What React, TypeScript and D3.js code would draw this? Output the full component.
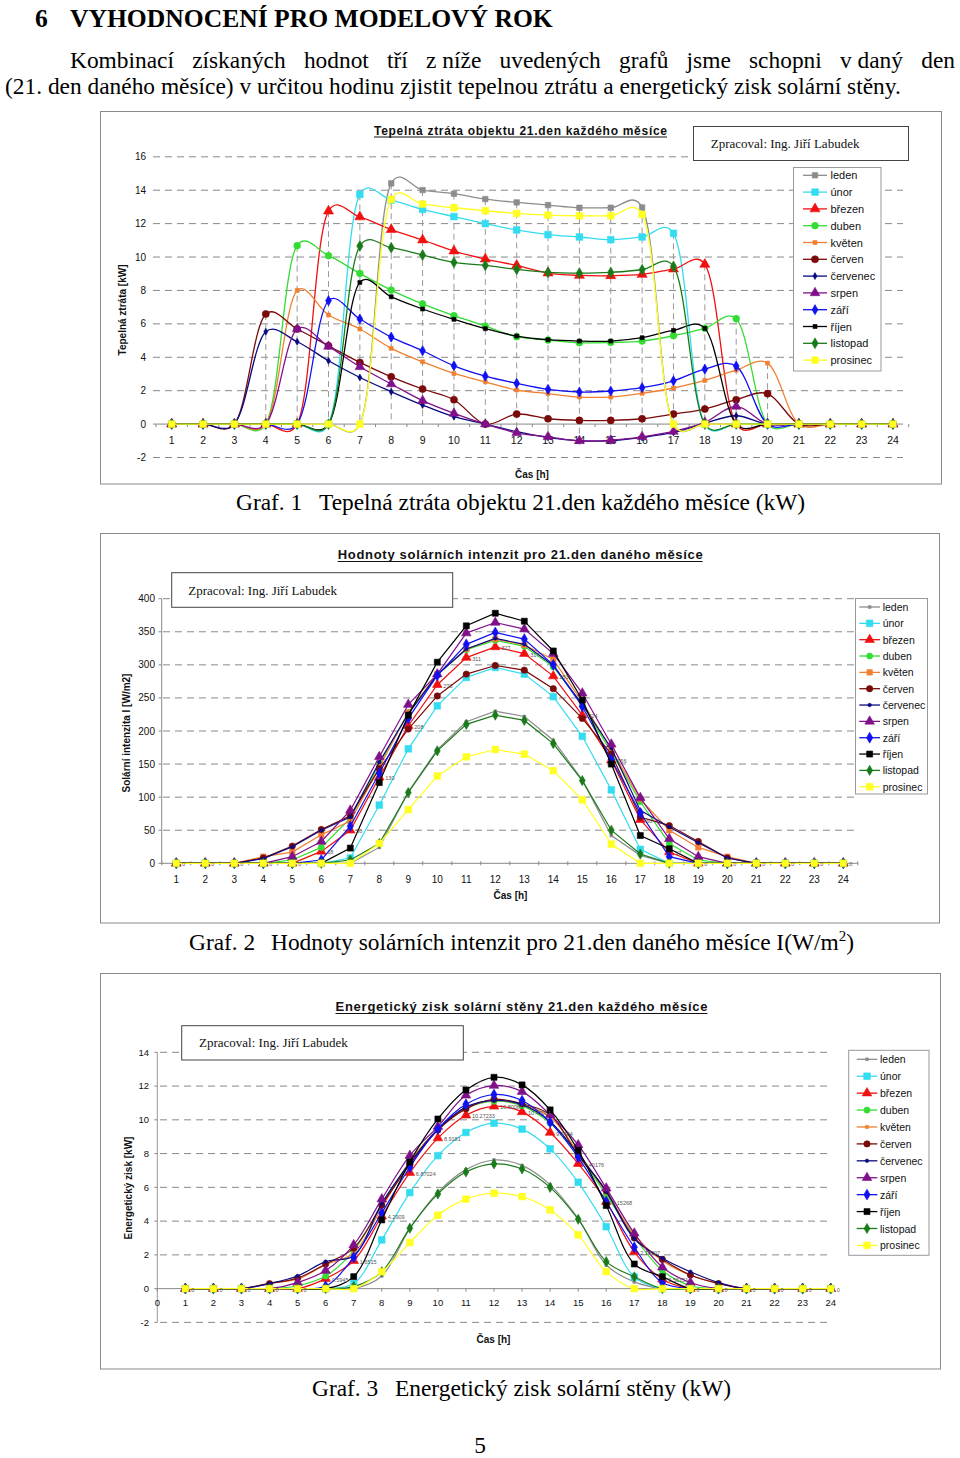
import React, { useLayoutEffect, useRef, useState } from "react";
import * as d3 from "d3";

// ---------- DATA ----------
const hours = [1, 2, 3, 4, 5, 6, 7, 8, 9, 10, 11, 12, 13, 14, 15, 16, 17, 18, 19, 20, 21, 22, 23, 24];
const hours0 = [0, 1, 2, 3, 4, 5, 6, 7, 8, 9, 10, 11, 12, 13, 14, 15, 16, 17, 18, 19, 20, 21, 22, 23, 24];
const months = ["leden", "únor", "březen", "duben", "květen", "červen", "červenec", "srpen", "září", "říjen", "listopad", "prosinec"];
const lossTicks = [-2, 0, 2, 4, 6, 8, 10, 12, 14, 16];
const solTicks = [0, 50, 100, 150, 200, 250, 300, 350, 400];
const gainTicks = [-2, 0, 2, 4, 6, 8, 10, 12, 14];

// Graf 1: tepelná ztráta [kW]
const lossLeden = [0, 0, 0, 0, 0, 0, 0, 14.41, 14.01, 13.79, 13.47, 13.27, 13.11, 12.95, 12.95, 12.97, 0, 0, 0, 0, 0, 0, 0, 0];
const lossUnor = [0, 0, 0, 0, 0, 0, 13.75, 13.41, 12.85, 12.42, 12.0, 11.62, 11.34, 11.2, 11.04, 11.2, 11.42, 0, 0, 0, 0, 0, 0, 0];
const lossBrezen = [0, 0, 0, 0, 0, 12.75, 12.4, 11.64, 11.02, 10.36, 9.88, 9.5, 9.04, 8.9, 8.88, 8.96, 9.28, 9.56, 0, 0, 0, 0, 0, 0];
const lossDuben = [0, 0, 0, 0, 10.68, 10.08, 9.02, 8.02, 7.19, 6.49, 5.87, 5.23, 5.03, 4.87, 4.89, 4.97, 5.29, 5.73, 6.31, 0, 0, 0, 0, 0];
const lossKveten = [0, 0, 0, 0, 8.0, 6.53, 5.69, 4.53, 3.73, 3.03, 2.53, 2.04, 1.82, 1.62, 1.62, 1.84, 2.16, 2.61, 3.23, 3.65, 0, 0, 0, 0];
const lossCerven = [0, 0, 0, 6.59, 5.69, 4.69, 3.69, 2.83, 2.1, 1.46, 0, 0.6, 0.32, 0.22, 0.22, 0.32, 0.6, 0.9, 1.46, 1.82, 0, 0, 0, 0];
const lossCervenec = [0, 0, 0, 5.53, 4.93, 3.79, 2.79, 1.94, 1.14, 0.44, 0, -0.45, -0.8, -1.0, -1.0, -0.8, -0.5, 0.05, 0.5, 0, 0, 0, 0, 0];
const lossSrpen = [0, 0, 0, 0, 5.69, 4.65, 3.43, 2.4, 1.4, 0.64, 0, -0.52, -0.76, -1.0, -0.96, -0.76, -0.44, 0.1, 1.06, 0, 0, 0, 0, 0];
const lossZari = [0, 0, 0, 0, 0, 7.39, 6.29, 5.21, 4.39, 3.49, 2.87, 2.44, 2.08, 1.92, 1.98, 2.18, 2.59, 3.29, 3.47, 0, 0, 0, 0, 0];
const lossRijen = [0, 0, 0, 0, 0, 0, 8.48, 7.62, 6.89, 6.27, 5.71, 5.27, 5.05, 4.97, 4.97, 5.17, 5.61, 5.73, 0, 0, 0, 0, 0, 0];
const lossListopad = [0, 0, 0, 0, 0, 0, 10.66, 10.56, 10.12, 9.68, 9.5, 9.26, 9.08, 9.04, 9.08, 9.24, 9.44, 0, 0, 0, 0, 0, 0, 0];
const lossProsinec = [0, 0, 0, 0, 0, 0, 0, 13.45, 13.17, 12.95, 12.77, 12.61, 12.51, 12.47, 12.47, 12.55, 0, 0, 0, 0, 0, 0, 0, 0];

// Graf 2: solární intenzita [W/m2]
const solLeden = [0, 0, 0, 0, 0, 0, 0, 24, 108, 172, 214, 230, 222, 186, 126, 42, 12, 0, 0, 0, 0, 0, 0, 0];
const solUnor = [0, 0, 0, 0, 0, 0, 8, 88, 173, 238, 281, 296, 286, 252, 192, 111, 21, 0, 0, 0, 0, 0, 0, 0];
const solBrezen = [0, 0, 0, 0, 0, 18, 50, 130, 208, 270, 311, 327, 317, 283, 224, 156, 66, 17, 0, 0, 0, 0, 0, 0];
const solDuben = [0, 0, 0, 0, 5, 24, 68, 150, 228, 285, 323, 337, 328, 297, 240, 168, 93, 30, 5, 0, 0, 0, 0, 0];
const solKveten = [0, 0, 0, 10, 17, 43, 64, 145, 228, 286, 324, 339, 330, 308, 244, 172, 97, 50, 24, 10, 0, 0, 0, 0];
const solCerven = [0, 0, 0, 8, 26, 51, 72, 143, 203, 253, 286, 299, 292, 264, 219, 165, 70, 57, 33, 8, 0, 0, 0, 0];
const solCervenec = [0, 0, 0, 7, 25, 50, 70, 153, 226, 285, 324, 340, 331, 299, 240, 174, 80, 55, 31, 8, 0, 0, 0, 0];
const solSrpen = [0, 0, 0, 0, 10, 33, 80, 161, 240, 286, 348, 364, 354, 317, 257, 180, 99, 37, 10, 0, 0, 0, 0, 0];
const solZari = [0, 0, 0, 0, 0, 5, 56, 136, 219, 284, 331, 349, 339, 300, 237, 157, 76, 10, 0, 0, 0, 0, 0, 0];
const solRijen = [0, 0, 0, 0, 0, 0, 23, 122, 224, 304, 359, 378, 366, 321, 247, 150, 42, 22, 0, 0, 0, 0, 0, 0];
const solListopad = [0, 0, 0, 0, 0, 0, 5, 30, 107, 170, 210, 224, 216, 181, 125, 50, 14, 0, 0, 0, 0, 0, 0, 0];
const solProsinec = [0, 0, 0, 0, 0, 0, 0, 30, 81, 132, 161, 172, 165, 140, 96, 29, 0, 0, 0, 0, 0, 0, 0, 0];

// Graf 3: energetický zisk [kW]
const gainLeden = [0, 0, 0, 0, 0, 0, 0, 0.75, 3.55, 5.7, 7.05, 7.62, 7.3, 6.15, 4.15, 1.4, 0.4, 0, 0, 0, 0, 0, 0, 0];
const gainUnor = [0, 0, 0, 0, 0, 0, 0.3, 2.89, 5.69, 7.88, 9.25, 9.8, 9.45, 8.28, 6.3, 3.67, 0.69, 0, 0, 0, 0, 0, 0, 0];
const gainBrezen = [0, 0, 0, 0, 0, 0.5945, 1.6515, 4.2909, 6.87024, 8.9181, 10.27233, 10.80081, 10.47051, 9.2484, 7.40176, 5.15268, 2.18007, 0.56151, 0, 0, 0, 0, 0, 0];
const gainDuben = [0, 0, 0, 0, 0.17, 0.75, 2.25, 4.95, 7.53, 9.41, 10.67, 11.1, 10.83, 9.81, 7.93, 5.55, 3.07, 1.07, 0.17, 0, 0, 0, 0, 0];
const gainKveten = [0, 0, 0, 0.33, 0.56, 1.42, 2.11, 4.79, 7.53, 9.45, 10.7, 11.15, 10.9, 10.17, 8.06, 5.68, 3.2, 1.65, 0.79, 0.33, 0, 0, 0, 0];
const gainCerven = [0, 0, 0, 0.3, 0.62, 1.46, 2.4, 4.95, 7.35, 9.4, 10.65, 11.22, 10.95, 10.3, 7.9, 5.8, 3.0, 1.74, 0.81, 0.3, 0, 0, 0, 0];
const gainCervenec = [0, 0, 0, 0.3, 0.75, 1.6, 1.95, 5.05, 7.45, 9.45, 10.75, 11.15, 10.9, 9.9, 7.95, 5.75, 2.95, 1.8, 1.0, 0.36, 0, 0, 0, 0];
const gainSrpen = [0, 0, 0, 0, 0.36, 1.07, 2.59, 5.3, 7.88, 9.6, 11.45, 12.03, 11.67, 10.3, 8.51, 5.95, 3.28, 1.27, 0.36, 0, 0, 0, 0, 0];
const gainZari = [0, 0, 0, 0, 0, 0.15, 1.86, 4.48, 7.19, 9.46, 10.92, 11.5, 11.14, 9.85, 7.78, 5.15, 2.45, 0.36, 0, 0, 0, 0, 0, 0];
const gainRijen = [0, 0, 0, 0, 0, 0, 0.71, 4.07, 7.5, 10.05, 11.77, 12.52, 12.07, 10.59, 8.19, 4.92, 1.46, 0.71, 0, 0, 0, 0, 0, 0];
const gainListopad = [0, 0, 0, 0, 0, 0, 0.12, 1.0, 3.58, 5.61, 6.91, 7.39, 7.09, 6.0, 4.11, 1.6, 0.7, 0, 0, 0, 0, 0, 0, 0];
const gainProsinec = [0, 0, 0, 0, 0, 0, 0, 1.0, 2.73, 4.35, 5.3, 5.65, 5.45, 4.66, 3.18, 1.01, 0, 0, 0, 0, 0, 0, 0, 0];

const lossSeries = [lossLeden, lossUnor, lossBrezen, lossDuben, lossKveten, lossCerven, lossCervenec, lossSrpen, lossZari, lossRijen, lossListopad, lossProsinec];
const solSeries = [solLeden, solUnor, solBrezen, solDuben, solKveten, solCerven, solCervenec, solSrpen, solZari, solRijen, solListopad, solProsinec];
const gainSeries = [gainLeden, gainUnor, gainBrezen, gainDuben, gainKveten, gainCerven, gainCervenec, gainSrpen, gainZari, gainRijen, gainListopad, gainProsinec];

// ---------- STYLE ----------
const COLORS = ["#8c8c8c", "#33dcf0", "#f01010", "#33dd33", "#f08030", "#7a0a0a", "#0a0a80", "#80108a", "#1010f0", "#000000", "#1a7a1a", "#ffff20"];
type Mk = { t: string; s: number };
const MK1: Mk[] = [
  { t: "square", s: 30 }, { t: "square", s: 44 }, { t: "triangle", s: 44 }, { t: "circle", s: 36 },
  { t: "square", s: 16 }, { t: "circle", s: 40 }, { t: "diamond", s: 14 }, { t: "triangle", s: 40 },
  { t: "diamond", s: 30 }, { t: "square", s: 16 }, { t: "diamond", s: 34 }, { t: "square", s: 44 },
];
const MK2: Mk[] = [
  { t: "square", s: 8 }, { t: "square", s: 44 }, { t: "triangle", s: 40 }, { t: "circle", s: 30 },
  { t: "square", s: 30 }, { t: "circle", s: 32 }, { t: "circle", s: 10 }, { t: "triangle", s: 40 },
  { t: "diamond", s: 34 }, { t: "square", s: 36 }, { t: "diamond", s: 30 }, { t: "square", s: 44 },
];
const MK3: Mk[] = MK2.map((m, i) => (i === 4 ? { t: "square", s: 10 } : m));

const SANS = "'Liberation Sans', Arial, sans-serif";
const SERIF = "'Liberation Serif', 'Times New Roman', serif";
const GRID = "#8a8a8a";
const BODY = 23.4;

const symType = (t: string) =>
  t === "square" ? d3.symbolSquare : t === "triangle" ? d3.symbolTriangle : t === "diamond" ? d3.symbolDiamond : d3.symbolCircle;

function Marker({ x, y, mk, color }: { x: number; y: number; mk: Mk; color: string }) {
  const p = d3.symbol().type(symType(mk.t)).size(mk.s)() as string;
  return <path d={p} transform={`translate(${x},${y})`} fill={color} stroke={color} strokeWidth={0.6} />;
}

function Legend({ x, y, w, h, y0, dy, lx0, lx1, tx, fs, mks }: any) {
  return (
    <g>
      <rect x={x} y={y} width={w} height={h} fill="#fff" stroke="#999" strokeWidth={1} />
      {months.map((m, i) => {
        const yy = y0 + i * dy;
        return (
          <g key={m}>
            <line x1={lx0} x2={lx1} y1={yy} y2={yy} stroke={COLORS[i]} strokeWidth={1.3} />
            <Marker x={(lx0 + lx1) / 2} y={yy} mk={mks[i]} color={COLORS[i]} />
            <text x={tx} y={yy + 4} fontFamily={SANS} fontSize={fs} fill="#111">{m}</text>
          </g>
        );
      })}
    </g>
  );
}

function Credit({ x, y, w, h, tx, ty }: any) {
  return (
    <g>
      <rect x={x} y={y} width={w} height={h} fill="#fff" stroke="#444" strokeWidth={1} />
      <text x={tx} y={ty} fontFamily={SERIF} fontSize={13} fill="#111">Zpracoval: Ing. Jiří Labudek</text>
    </g>
  );
}

function Title({ cx, y, w, fs, text }: any) {
  return (
    <g>
      <text x={cx} y={y} textAnchor="middle" fontFamily={SANS} fontWeight="bold" fontSize={fs} textLength={w} lengthAdjust="spacing" fill="#111">{text}</text>
      <line x1={cx - w / 2} x2={cx + w / 2} y1={y + 2.5} y2={y + 2.5} stroke="#111" strokeWidth={1} />
    </g>
  );
}

function YLabel({ x, y, text }: any) {
  return (
    <text transform={`translate(${x},${y}) rotate(-90)`} textAnchor="middle" fontFamily={SANS} fontWeight="bold" fontSize={10} fill="#111">{text}</text>
  );
}

const smooth1 = d3.curveCatmullRom.alpha(0.25);
const smooth3 = d3.curveCatmullRom.alpha(0.5);

// ---------- CHART 1 ----------
function Chart1() {
  const x = d3.scaleLinear().domain([1, 24]).range([171.7, 893]);
  const y = d3.scaleLinear().domain([-2, 16]).range([457.5, 156.8]);
  const line = d3.line<number>().x((_, i) => x(hours[i])).y((d) => y(d)).curve(smooth1);
  const step = x(2) - x(1);
  return (
    <g>
      <rect x={100.5} y={111.5} width={841} height={372.5} fill="#fff" stroke={GRID} strokeWidth={1} />
      {lossTicks.filter((t) => t !== 0).map((t) => (
        <line key={t} x1={153} x2={903} y1={y(t)} y2={y(t)} stroke={GRID} strokeWidth={1} strokeDasharray="7,5" />
      ))}
      {hours.map((h, i) => {
        const vals = lossSeries.map((s) => s[i]);
        const mx = Math.max(0, d3.max(vals) as number);
        const mn = Math.min(0, d3.min(vals) as number);
        if (mx - mn < 0.01) return null;
        return <line key={h} x1={x(h)} x2={x(h)} y1={y(mx)} y2={y(mn)} stroke="#999" strokeWidth={1} strokeDasharray="6,4" />;
      })}
      <line x1={153} x2={903} y1={y(0)} y2={y(0)} stroke="#888" strokeWidth={1} />
      {d3.range(0, 25).map((k) => (
        <line key={k} x1={x(1) - step / 2 + k * step} x2={x(1) - step / 2 + k * step} y1={y(0)} y2={y(0) + 3} stroke="#888" />
      ))}
      {lossTicks.map((t) => (
        <text key={t} x={146} y={y(t) + 3.5} textAnchor="end" fontFamily={SANS} fontSize={10} fill="#111">{t}</text>
      ))}
      {hours.map((h) => (
        <text key={h} x={x(h)} y={444} textAnchor="middle" fontFamily={SANS} fontSize={10.5} fill="#111">{h}</text>
      ))}
      {lossSeries.map((s, i) => (
        <g key={i}>
          <path d={line(s) as string} fill="none" stroke={COLORS[i]} strokeWidth={1.3} />
          {s.map((v, j) => <Marker key={j} x={x(hours[j])} y={y(v)} mk={MK1[i]} color={COLORS[i]} />)}
        </g>
      ))}
      <Title cx={520.5} y={134.5} w={293} fs={12} text="Tepelná ztráta objektu 21.den každého měsíce" />
      <Credit x={693.5} y={126.5} w={215} h={34} tx={710.7} ty={147.5} />
      <Legend x={793.5} y={167.5} w={87.5} h={203.5} y0={175.3} dy={16.8} lx0={803} lx1={827} tx={830.5} fs={11} mks={MK1} />
      <YLabel x={126} y={310} text="Tepelná ztráta [kW]" />
      <text x={532} y={477.5} textAnchor="middle" fontFamily={SANS} fontWeight="bold" fontSize={10} fill="#111">Čas [h]</text>
    </g>
  );
}

// ---------- CHART 2 ----------
function Chart2() {
  const x = d3.scaleLinear().domain([1, 24]).range([176.3, 843.3]);
  const y = d3.scaleLinear().domain([0, 400]).range([863.3, 598.7]);
  const line = d3.line<number>().x((_, i) => x(hours[i])).y((d) => y(d));
  const step = x(2) - x(1);
  return (
    <g>
      <rect x={100.5} y={533.5} width={839} height={389.5} fill="#fff" stroke={GRID} strokeWidth={1} />
      {solTicks.filter((t) => t !== 0).map((t) => (
        <line key={t} x1={163} x2={855} y1={y(t)} y2={y(t)} stroke={GRID} strokeWidth={1} strokeDasharray="7,5" />
      ))}
      <line x1={161.7} x2={161.7} y1={y(400)} y2={y(0)} stroke="#888" />
      <line x1={161.7} x2={858} y1={y(0)} y2={y(0)} stroke="#888" />
      {solTicks.map((t) => <line key={t} x1={158.5} x2={161.7} y1={y(t)} y2={y(t)} stroke="#888" />)}
      {d3.range(0, 25).map((k) => (
        <line key={k} x1={x(1) - step / 2 + k * step} x2={x(1) - step / 2 + k * step} y1={y(0) - 2} y2={y(0) + 2} stroke="#888" />
      ))}
      {solTicks.map((t) => (
        <text key={t} x={155} y={y(t) + 3.5} textAnchor="end" fontFamily={SANS} fontSize={10} fill="#111">{t}</text>
      ))}
      {hours.map((h) => (
        <text key={h} x={x(h)} y={882.5} textAnchor="middle" fontFamily={SANS} fontSize={10} fill="#111">{h}</text>
      ))}
      {solSeries.map((s, i) => (
        <g key={i}>
          <path d={line(s) as string} fill="none" stroke={COLORS[i]} strokeWidth={1.2} />
          {s.map((v, j) => <Marker key={j} x={x(hours[j])} y={y(v)} mk={MK2[i]} color={COLORS[i]} />)}
        </g>
      ))}
      {solBrezen.map((v, j) => (
        <text key={j} x={x(hours[j]) + 6} y={y(v) + 3} fontFamily={SANS} fontSize={5.5} fill="#555">{v}</text>
      ))}
      <Title cx={520.2} y={559} w={365} fs={13} text="Hodnoty solárních intenzit pro 21.den daného měsíce" />
      <Credit x={171.7} y={572.7} w={281} h={34.6} tx={188.3} ty={594.5} />
      <Legend x={855.5} y={598.5} w={72} h={195.5} y0={607} dy={16.34} lx0={859.3} lx1={880} tx={882.7} fs={10.5} mks={MK2} />
      <YLabel x={129.5} y={733} text="Solární intenzita I [W/m2]" />
      <text x={510.5} y={898.5} textAnchor="middle" fontFamily={SANS} fontWeight="bold" fontSize={10} fill="#111">Čas [h]</text>
    </g>
  );
}

// ---------- CHART 3 ----------
function Chart3() {
  const x = d3.scaleLinear().domain([0, 24]).range([157.3, 830.7]);
  const y = d3.scaleLinear().domain([-2, 14]).range([1322.4, 1052.3]);
  const line = d3.line<number>().x((_, i) => x(hours[i])).y((d) => y(d)).curve(smooth3);
  return (
    <g>
      <rect x={100.5} y={973.5} width={840} height={395.5} fill="#fff" stroke={GRID} strokeWidth={1} />
      {gainTicks.filter((t) => t !== 0).map((t) => (
        <line key={t} x1={160} x2={832} y1={y(t)} y2={y(t)} stroke={GRID} strokeWidth={1} strokeDasharray="7,5" />
      ))}
      <line x1={x(0)} x2={x(0)} y1={y(14)} y2={y(-2)} stroke="#999" />
      <line x1={x(0)} x2={832} y1={y(0)} y2={y(0)} stroke="#888" />
      {gainTicks.map((t) => <line key={t} x1={x(0) - 3} x2={x(0)} y1={y(t)} y2={y(t)} stroke="#888" />)}
      {hours0.map((h) => <line key={h} x1={x(h)} x2={x(h)} y1={y(0)} y2={y(0) + 3} stroke="#888" />)}
      {gainTicks.map((t) => (
        <text key={t} x={149} y={y(t) + 3.2} textAnchor="end" fontFamily={SANS} fontSize={9.5} fill="#111">{t}</text>
      ))}
      {hours0.map((h) => (
        <text key={h} x={x(h)} y={1306} textAnchor="middle" fontFamily={SANS} fontSize={9.5} fill="#111">{h}</text>
      ))}
      {gainSeries.map((s, i) => (
        <g key={i}>
          <path d={line(s) as string} fill="none" stroke={COLORS[i]} strokeWidth={1.2} />
          {s.map((v, j) => <Marker key={j} x={x(hours[j])} y={y(v)} mk={MK3[i]} color={COLORS[i]} />)}
        </g>
      ))}
      {gainBrezen.map((v, j) => (
        <text key={j} x={x(hours[j]) + 6} y={y(v) + 3} fontFamily={SANS} fontSize={5.5} fill="#555">{v}</text>
      ))}
      <Title cx={521.5} y={1011} w={372} fs={13} text="Energetický zisk solární stěny 21.den každého měsíce" />
      <Credit x={181.7} y={1025.7} w={281.6} h={34.3} tx={199} ty={1046.5} />
      <Legend x={848.7} y={1050.3} w={80.3} h={205} y0={1059.3} dy={16.92} lx0={856.7} lx1={877.3} tx={880} fs={10.5} mks={MK3} />
      <YLabel x={132} y={1188} text="Energetický zisk [kW]" />
      <text x={493.5} y={1342.5} textAnchor="middle" fontFamily={SANS} fontWeight="bold" fontSize={10} fill="#111">Čas [h]</text>
    </g>
  );
}

// ---------- TEXT ----------
const paraWords = ["Kombinací", "získaných", "hodnot", "tří", "z níže", "uvedených", "grafů", "jsme", "schopni", "v daný", "den"];

function JustifiedLine({ x0, x1, y, words, fs }: any) {
  const refs = useRef<(SVGTextElement | null)[]>([]);
  const [pos, setPos] = useState<number[] | null>(null);
  useLayoutEffect(() => {
    const ws = refs.current.map((el) => (el ? el.getComputedTextLength() : 0));
    const total = d3.sum(ws);
    const gap = (x1 - x0 - total) / (words.length - 1);
    const p: number[] = [];
    let cx = x0;
    ws.forEach((w) => { p.push(cx); cx += w + gap; });
    setPos(p);
  }, []);
  return (
    <g>
      {words.map((w: string, i: number) => (
        <text key={i} ref={(el) => { refs.current[i] = el; }} x={pos ? pos[i] : x0 + i * 80} y={y} fontFamily={SERIF} fontSize={fs} fill="#000">{w}</text>
      ))}
    </g>
  );
}

export default function App() {
  return (
    <svg width={960} height={1458} style={{ position: "absolute", left: 0, top: 0, background: "#fff" }}>
      <rect x={0} y={0} width={960} height={1458} fill="#fff" />
      <text x={35} y={27} fontFamily={SERIF} fontWeight="bold" fontSize={25.6} fill="#000">6</text>
      <text x={70} y={27} fontFamily={SERIF} fontWeight="bold" fontSize={25.6} fill="#000">VYHODNOCENÍ PRO MODELOVÝ ROK</text>
      <JustifiedLine x0={70} x1={955} y={68} words={paraWords} fs={BODY} />
      <text x={5} y={94} fontFamily={SERIF} fontSize={BODY} fill="#000">(21. den daného měsíce) v určitou hodinu zjistit tepelnou ztrátu a energetický zisk solární stěny.</text>
      <Chart1 />
      <text x={236} y={509.5} fontFamily={SERIF} fontSize={BODY} fill="#000">Graf. 1</text>
      <text x={319} y={509.5} fontFamily={SERIF} fontSize={BODY} fill="#000">Tepelná ztráta objektu 21.den každého měsíce (kW)</text>
      <Chart2 />
      <text x={189} y={949.5} fontFamily={SERIF} fontSize={BODY} fill="#000">Graf. 2</text>
      <text x={271} y={949.5} fontFamily={SERIF} fontSize={BODY} fill="#000">
        Hodnoty solárních intenzit pro 21.den daného měsíce I(W/m<tspan dy={-9} fontSize={15}>2</tspan><tspan dy={9}>)</tspan>
      </text>
      <Chart3 />
      <text x={312} y={1395.5} fontFamily={SERIF} fontSize={BODY} fill="#000">Graf. 3</text>
      <text x={395} y={1395.5} fontFamily={SERIF} fontSize={BODY} fill="#000">Energetický zisk solární stěny (kW)</text>
      <text x={480} y={1453} textAnchor="middle" fontFamily={SERIF} fontSize={BODY} fill="#000">5</text>
    </svg>
  );
}
